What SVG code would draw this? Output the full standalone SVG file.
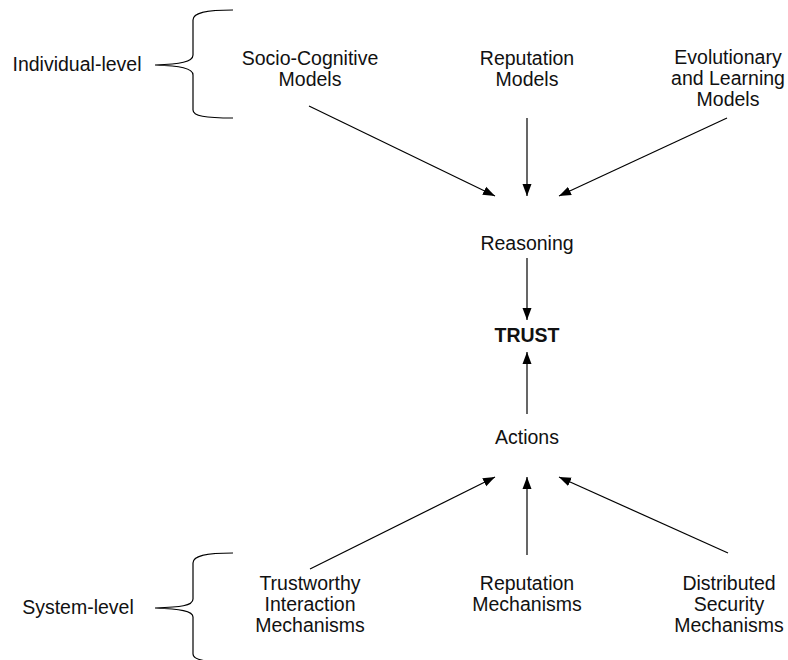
<svg xmlns="http://www.w3.org/2000/svg" width="788" height="660" viewBox="0 0 788 660">
  <style>
    text { font-family: "Liberation Sans", Arial, sans-serif; font-size: 19.5px; fill: #111; text-anchor: middle; }
    .bold { font-weight: bold; }
    .edge { stroke: #000; stroke-width: 1.2; fill: none; marker-end: url(#arrow); }
    .brace { stroke: #000; stroke-width: 1.2; fill: none; }
  </style>
  <defs>
    <marker id="arrow" markerWidth="13" markerHeight="10" refX="12" refY="5" orient="auto" markerUnits="userSpaceOnUse">
      <path d="M0,0.5 L12,5 L0,9.5 Z" fill="#000"/>
    </marker>
  </defs>
  <rect width="788" height="660" fill="#fff"/>

  <!-- level labels with braces -->
  <g id="individual-level">
    <text x="77" y="71">Individual-level</text>
    <path class="brace" d="M233,10 C205,10 193,13 193,20 L193,55 C193,62 180,64 155,65 C180,66 193,68 193,75 L193,110 C193,116 205,118 233,118"/>
  </g>
  <g id="system-level">
    <text x="78" y="614">System-level</text>
    <path class="brace" d="M233,553 C205,553 193,556 193,563 L193,599 C193,606 180,607 155,608 C180,609 193,611 193,617 L193,654 C193,660 205,662 233,662"/>
  </g>

  <!-- nodes -->
  <g id="socio-cognitive">
    <text x="310" y="65">Socio-Cognitive</text>
    <text x="310" y="86">Models</text>
  </g>
  <g id="reputation-models">
    <text x="527" y="65">Reputation</text>
    <text x="527" y="86">Models</text>
  </g>
  <g id="evolutionary">
    <text x="728" y="64">Evolutionary</text>
    <text x="728" y="85">and Learning</text>
    <text x="728" y="106">Models</text>
  </g>
  <g id="reasoning">
    <text x="527" y="250">Reasoning</text>
  </g>
  <g id="trust">
    <text class="bold" x="527" y="342">TRUST</text>
  </g>
  <g id="actions">
    <text x="527" y="444">Actions</text>
  </g>
  <g id="trustworthy-interaction">
    <text x="310" y="590">Trustworthy</text>
    <text x="310" y="611">Interaction</text>
    <text x="310" y="632">Mechanisms</text>
  </g>
  <g id="reputation-mechanisms">
    <text x="527" y="590">Reputation</text>
    <text x="527" y="611">Mechanisms</text>
  </g>
  <g id="distributed-security">
    <text x="729" y="590">Distributed</text>
    <text x="729" y="611">Security</text>
    <text x="729" y="632">Mechanisms</text>
  </g>

  <!-- connectors -->
  <g id="connectors">
    <line class="edge" x1="309" y1="106" x2="495" y2="196"/>
    <line class="edge" x1="527" y1="118" x2="527" y2="196"/>
    <line class="edge" x1="727" y1="118" x2="559" y2="196"/>
    <line class="edge" x1="527" y1="258" x2="527" y2="320"/>
    <line class="edge" x1="527" y1="414" x2="527" y2="352"/>
    <line class="edge" x1="310" y1="569" x2="495" y2="477"/>
    <line class="edge" x1="527" y1="555" x2="527" y2="477"/>
    <line class="edge" x1="728" y1="553" x2="559" y2="477"/>
  </g>
</svg>
